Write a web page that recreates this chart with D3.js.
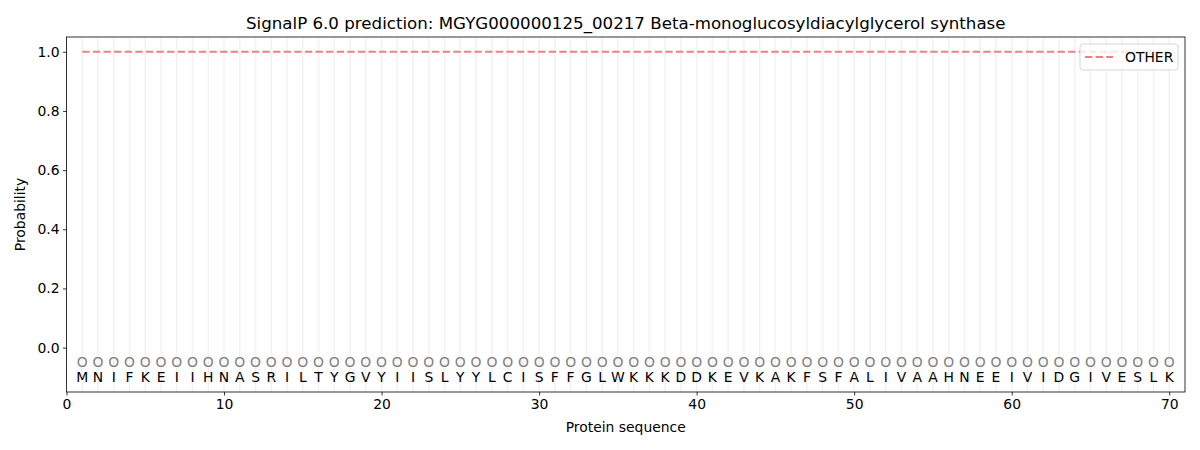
<!DOCTYPE html>
<html>
<head>
<meta charset="utf-8">
<script src="https://cdn.jsdelivr.net/npm/d3@7"></script>
<style>
  body { margin: 0; background: #fff; }
  svg { font-family: "DejaVu Sans", sans-serif; }
</style>
</head>
<body>
<svg id="chart" width="1200" height="450"></svg>
<script>
// sequence and per-residue predictions
const sequence = "MNIFKEIIHNASRILTYGVYIISLYYLCISFFGLWKKKDDKEVKAKFSFALIVAAHNEEIVIDGIVESLK".split("");
const positions = sequence.map((_, i) => i + 1);
const otherProb = sequence.map(() => 1.0);
const labelsPred = sequence.map(() => "O");
const yTicks = [0.0, 0.2, 0.4, 0.6, 0.8, 1.0];
const xTicks = [0, 10, 20, 30, 40, 50, 60, 70];

const svg = d3.select("#chart");
const m = { left: 66.5, right: 1185, top: 37, bottom: 392 };
const FS = 13.9;

const x = d3.scaleLinear().domain([0, 71]).range([m.left, m.right]);
const y = d3.scaleLinear().domain([-0.15, 1.05]).range([m.bottom, m.top]);

// light vertical guides at each residue
svg.append("g").selectAll("line").data(positions).join("line")
  .attr("x1", d => x(d)).attr("x2", d => x(d))
  .attr("y1", m.top).attr("y2", m.bottom)
  .attr("stroke", "#f2f2f2").attr("stroke-width", 1.5);

// OTHER probability line
const line = d3.line().x((d, i) => x(positions[i])).y(d => y(d));
svg.append("path").datum(otherProb)
  .attr("d", line).attr("fill", "none")
  .attr("stroke", "#f08080").attr("stroke-width", 2)
  .attr("stroke-dasharray", "7.4,3.2");

// predicted label markers
svg.append("g").selectAll("text").data(labelsPred).join("text")
  .attr("x", (d, i) => x(positions[i])).attr("y", y(-0.05))
  .attr("dy", "0.36em").attr("text-anchor", "middle")
  .attr("font-size", FS).attr("fill", "#808080")
  .text(d => d);

// residues
svg.append("g").selectAll("text").data(sequence).join("text")
  .attr("x", (d, i) => x(positions[i])).attr("y", y(-0.1))
  .attr("dy", "0.36em").attr("text-anchor", "middle")
  .attr("font-size", FS).attr("fill", "#000")
  .text(d => d);

// axes
const xAxis = svg.append("g").attr("transform", `translate(0,${m.bottom})`)
  .call(d3.axisBottom(x).tickValues(xTicks).tickSize(3.5).tickPadding(3.5).tickFormat(d3.format("d")));
const yAxis = svg.append("g").attr("transform", `translate(${m.left},0)`)
  .call(d3.axisLeft(y).tickValues(yTicks).tickSize(3.5).tickPadding(3.5).tickFormat(d3.format(".1f")));
[xAxis, yAxis].forEach(a => {
  a.selectAll("text").attr("font-size", FS).attr("font-family", "DejaVu Sans").attr("fill", "#000");
  a.selectAll("line").attr("stroke", "#000").attr("stroke-width", 0.8);
  a.select(".domain").remove();
});

svg.append("rect")
  .attr("x", m.left).attr("y", m.top)
  .attr("width", m.right - m.left).attr("height", m.bottom - m.top)
  .attr("fill", "none").attr("stroke", "#000").attr("stroke-width", 0.8);

// titles
svg.append("text").attr("x", (m.left + m.right) / 2).attr("y", 29)
  .attr("text-anchor", "middle").attr("font-size", 16.67)
  .text("SignalP 6.0 prediction: MGYG000000125_00217 Beta-monoglucosyldiacylglycerol synthase");
svg.append("text").attr("x", (m.left + m.right) / 2).attr("y", 432)
  .attr("text-anchor", "middle").attr("font-size", FS)
  .text("Protein sequence");
svg.append("text").attr("transform", `translate(25,${(m.top + m.bottom) / 2}) rotate(-90)`)
  .attr("text-anchor", "middle").attr("font-size", FS)
  .text("Probability");

// legend
const lg = svg.append("g").attr("transform", "translate(1080,44)");
lg.append("rect").attr("width", 98).attr("height", 26).attr("rx", 3)
  .attr("fill", "#fff").attr("fill-opacity", 0.8)
  .attr("stroke", "#ccc").attr("stroke-width", 0.8);
lg.append("line").attr("x1", 5).attr("x2", 33).attr("y1", 13).attr("y2", 13)
  .attr("stroke", "#f08080").attr("stroke-width", 2).attr("stroke-dasharray", "7.4,3.2");
lg.append("text").attr("x", 45).attr("y", 13).attr("dy", "0.36em")
  .attr("font-size", FS).text("OTHER");
</script>
</body>
</html>
